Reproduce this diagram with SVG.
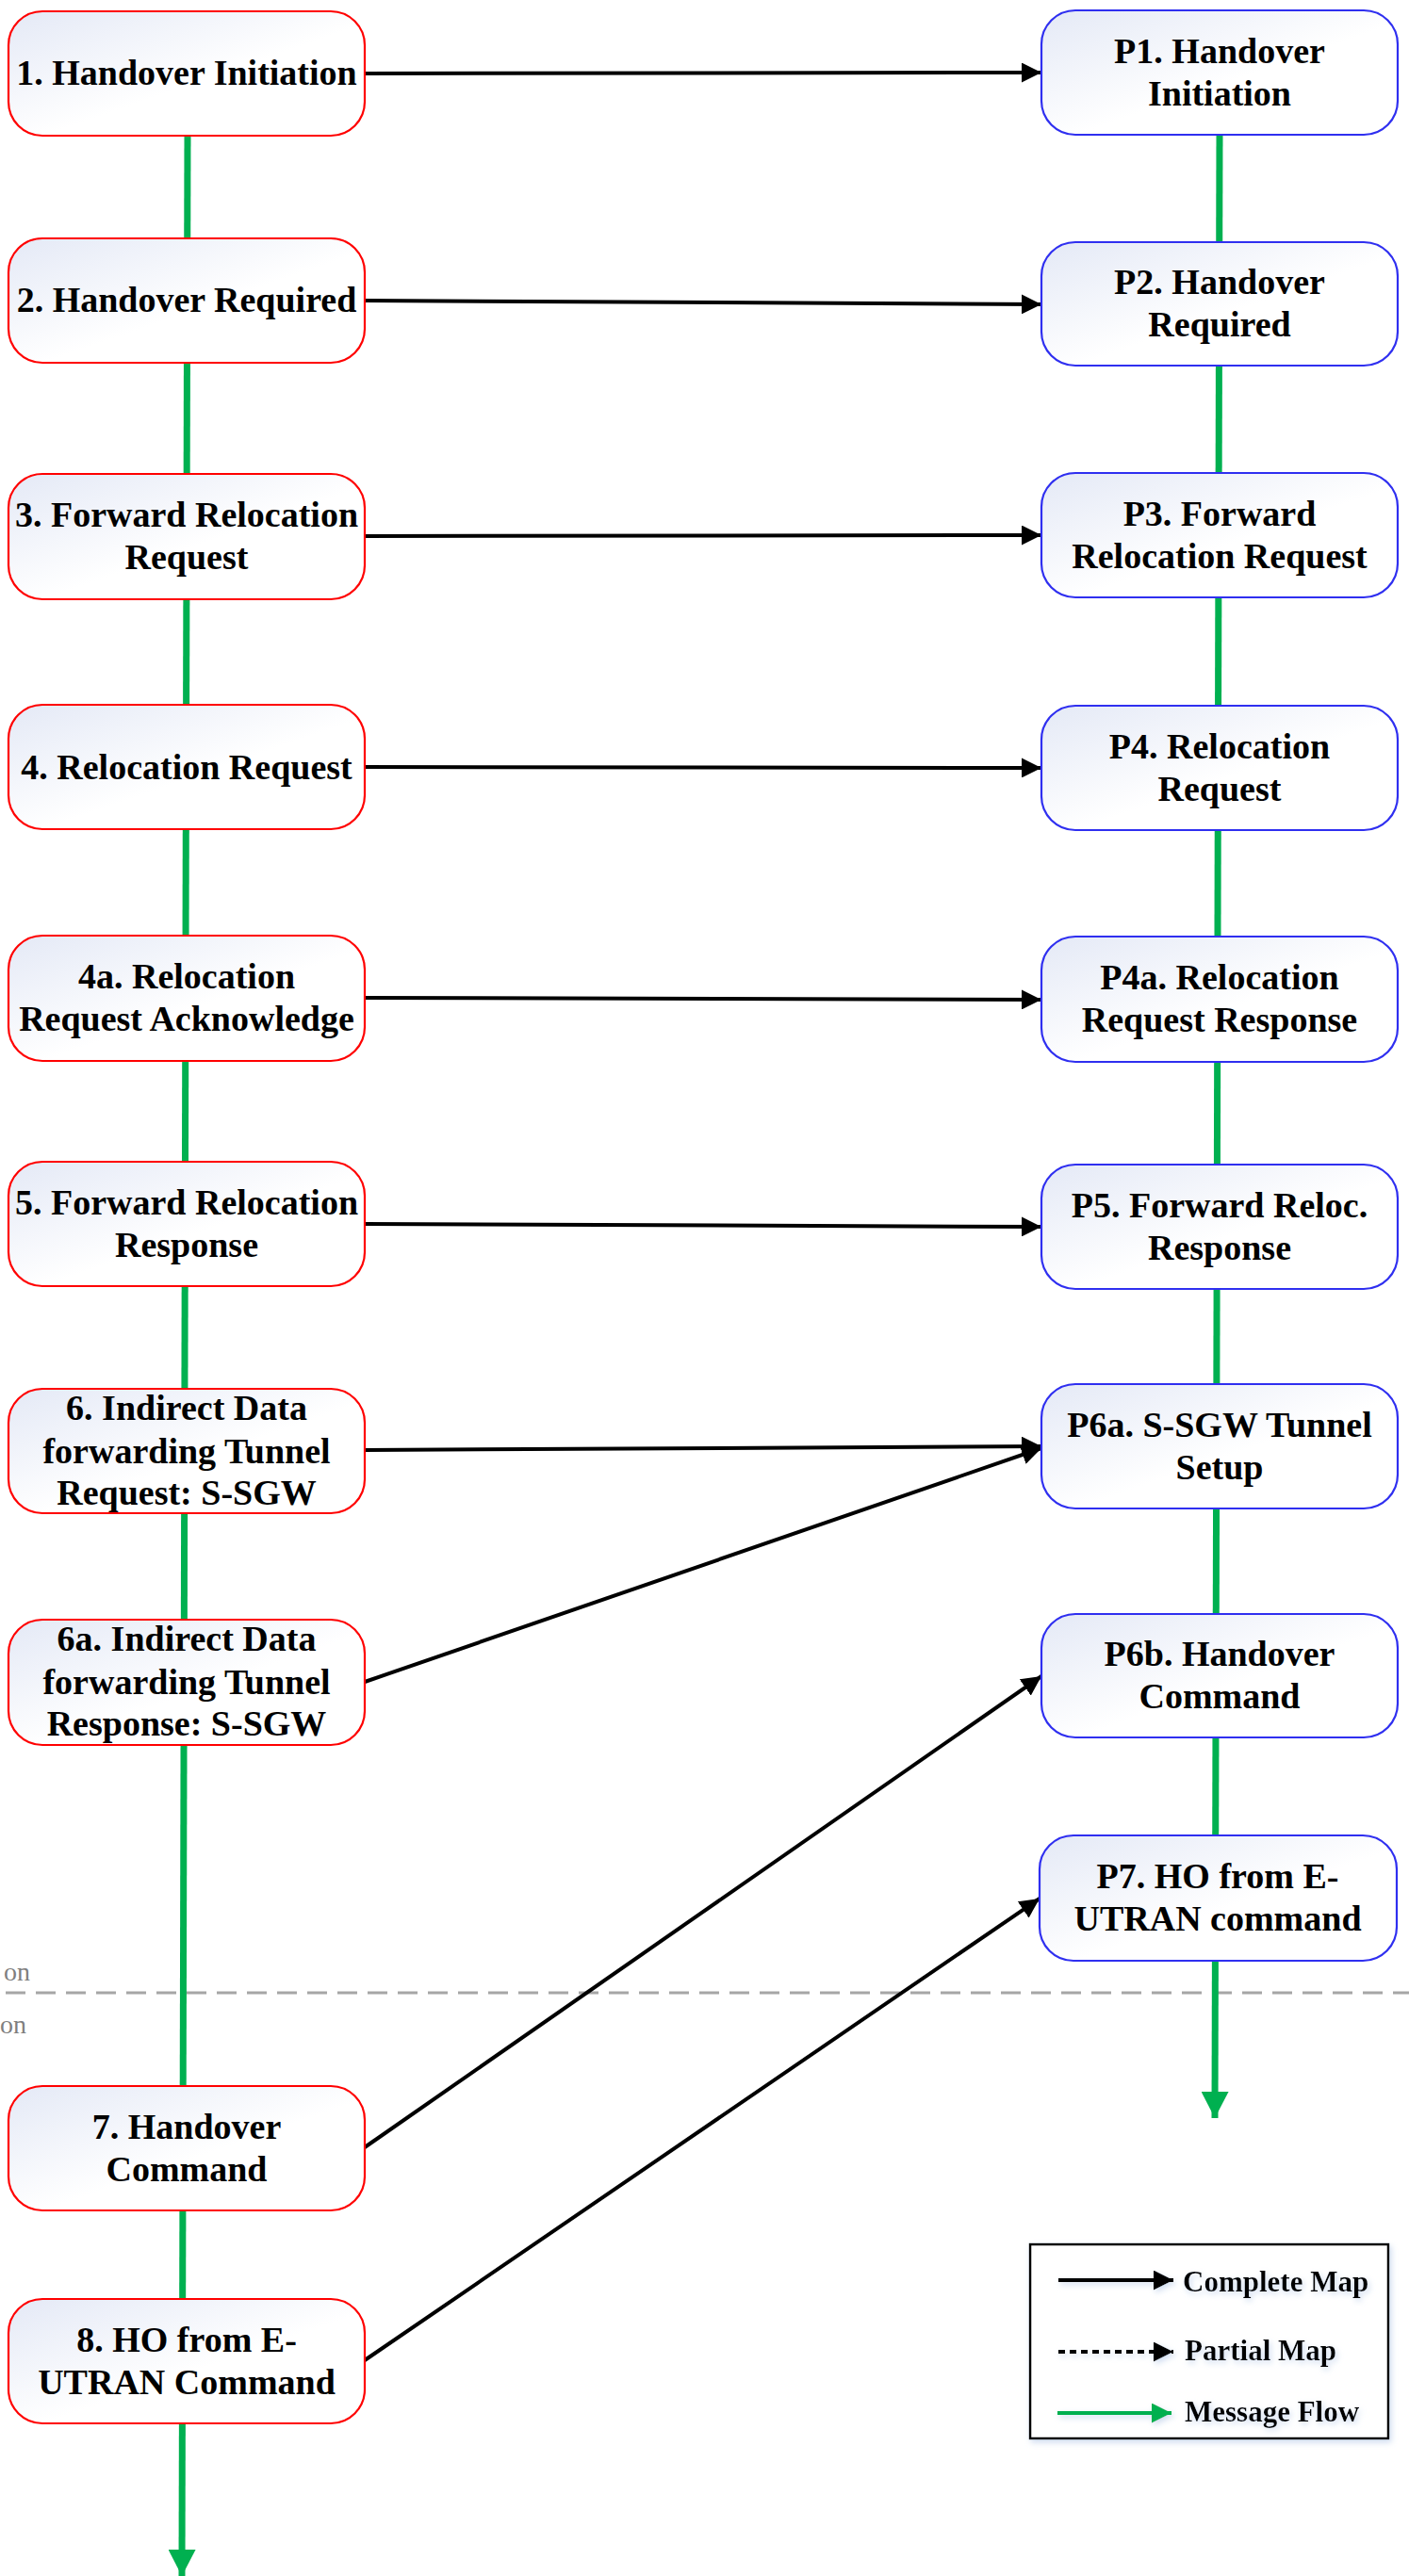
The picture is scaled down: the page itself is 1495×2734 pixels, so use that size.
<svg xmlns="http://www.w3.org/2000/svg" width="1495" height="2734" viewBox="0 0 1495 2734">
<defs>
<linearGradient id="nodeFill" x1="0" y1="0" x2="1" y2="1">
<stop offset="0" stop-color="#e4e9f6"/>
<stop offset="0.55" stop-color="#ffffff"/>
<stop offset="1" stop-color="#ffffff"/>
</linearGradient>
<marker id="blackHead" markerUnits="userSpaceOnUse" markerWidth="21" markerHeight="21" refX="21" refY="10.5" orient="auto">
<path d="M0,0 L21,10.5 L0,21 z" fill="#000"/>
</marker>
<marker id="greenHead" markerUnits="userSpaceOnUse" markerWidth="29" markerHeight="29" refX="28" refY="14.5" orient="auto">
<path d="M0,0 L28,14.5 L0,29 z" fill="#00b050"/>
</marker>
<marker id="legendGreenHead" markerUnits="userSpaceOnUse" markerWidth="21" markerHeight="21" refX="21" refY="10.5" orient="auto">
<path d="M0,0 L21,10.5 L0,21 z" fill="#00b050"/>
</marker>
<filter id="glow" x="-10%" y="-10%" width="120%" height="130%">
<feDropShadow dx="2" dy="3" stdDeviation="3" flood-color="#c9d8ee" flood-opacity="0.9"/>
</filter>
</defs>
<style>
.lnode rect{fill:url(#nodeFill);stroke:#ff0000;stroke-width:2.2}
.rnode rect{fill:url(#nodeFill);stroke:#2f2ff0;stroke-width:2.2}
.node text{font-family:"Liberation Serif","Times New Roman",serif;font-weight:bold;font-size:38px;fill:#000;text-anchor:middle}
.map{stroke:#000;stroke-width:4;fill:none;marker-end:url(#blackHead)}
.flow{stroke:#00b050;stroke-width:7;fill:none;marker-end:url(#greenHead)}
.sep{stroke:#a6a6a6;stroke-width:3;stroke-dasharray:21 11;fill:none}
.side{font-family:"Liberation Serif","Times New Roman",serif;font-size:28px;fill:#7f7f7f}
.legtext{font-family:"Liberation Serif","Times New Roman",serif;font-weight:bold;font-size:31px;fill:#000}
</style>
<rect width="1495" height="2734" fill="#ffffff"/>

<g id="separator">
<line class="sep" x1="6" y1="2115" x2="1495" y2="2115"/>
<text class="side" x="4" y="2102">on</text>
<text class="side" x="0" y="2158">on</text>
</g>

<g id="connectors">
<line class="flow" x1="199" y1="144" x2="193" y2="2734"/>
<line class="flow" x1="1294" y1="143" x2="1289" y2="2248"/>
<line class="map" x1="387" y1="78" x2="1105" y2="77"/>
<line class="map" x1="387" y1="319" x2="1105" y2="323"/>
<line class="map" x1="387" y1="569" x2="1105" y2="568"/>
<line class="map" x1="387" y1="814" x2="1105" y2="815"/>
<line class="map" x1="387" y1="1059" x2="1105" y2="1061"/>
<line class="map" x1="387" y1="1299" x2="1105" y2="1302"/>
<line class="map" x1="387" y1="1539" x2="1105" y2="1535"/>
<line class="map" x1="387" y1="1785" x2="1105" y2="1537"/>
<line class="map" x1="387" y1="2279" x2="1105" y2="1779"/>
<line class="map" x1="387" y1="2505" x2="1103" y2="2015"/>
</g>

<g id="n1" class="node lnode"><rect x="9" y="12" width="378" height="132" rx="36"/><text x="198" y="90">1. Handover Initiation</text></g>
<g id="n2" class="node lnode"><rect x="9" y="253" width="378" height="132" rx="36"/><text x="198" y="331">2. Handover Required</text></g>
<g id="n3" class="node lnode"><rect x="9" y="503" width="378" height="133" rx="36"/><text x="198" y="559">3. Forward Relocation</text><text x="198" y="604">Request</text></g>
<g id="n4" class="node lnode"><rect x="9" y="748" width="378" height="132" rx="36"/><text x="198" y="827">4. Relocation Request</text></g>
<g id="n4a" class="node lnode"><rect x="9" y="993" width="378" height="133" rx="36"/><text x="198" y="1049">4a. Relocation</text><text x="198" y="1094">Request Acknowledge</text></g>
<g id="n5" class="node lnode"><rect x="9" y="1233" width="378" height="132" rx="36"/><text x="198" y="1289">5. Forward Relocation</text><text x="198" y="1334">Response</text></g>
<g id="n6" class="node lnode"><rect x="9" y="1474" width="378" height="132" rx="36"/><text x="198" y="1507">6. Indirect Data</text><text x="198" y="1553">forwarding Tunnel</text><text x="198" y="1597">Request: S-SGW</text></g>
<g id="n6a" class="node lnode"><rect x="9" y="1719" width="378" height="133" rx="36"/><text x="198" y="1752">6a. Indirect Data</text><text x="198" y="1798">forwarding Tunnel</text><text x="198" y="1842">Response: S-SGW</text></g>
<g id="n7" class="node lnode"><rect x="9" y="2214" width="378" height="132" rx="36"/><text x="198" y="2270">7. Handover</text><text x="198" y="2315">Command</text></g>
<g id="n8" class="node lnode"><rect x="9" y="2440" width="378" height="132" rx="36"/><text x="198" y="2496">8. HO from E-</text><text x="198" y="2541">UTRAN Command</text></g>

<g id="p1" class="node rnode"><rect x="1105" y="11" width="378" height="132" rx="36"/><text x="1294" y="67">P1. Handover</text><text x="1294" y="112">Initiation</text></g>
<g id="p2" class="node rnode"><rect x="1105" y="257" width="378" height="131" rx="36"/><text x="1294" y="312">P2. Handover</text><text x="1294" y="357">Required</text></g>
<g id="p3" class="node rnode"><rect x="1105" y="502" width="378" height="132" rx="36"/><text x="1294" y="558">P3. Forward</text><text x="1294" y="603">Relocation Request</text></g>
<g id="p4" class="node rnode"><rect x="1105" y="749" width="378" height="132" rx="36"/><text x="1294" y="805">P4. Relocation</text><text x="1294" y="850">Request</text></g>
<g id="p4a" class="node rnode"><rect x="1105" y="994" width="378" height="133" rx="36"/><text x="1294" y="1050">P4a. Relocation</text><text x="1294" y="1095">Request Response</text></g>
<g id="p5" class="node rnode"><rect x="1105" y="1236" width="378" height="132" rx="36"/><text x="1294" y="1292">P5. Forward Reloc.</text><text x="1294" y="1337">Response</text></g>
<g id="p6a" class="node rnode"><rect x="1105" y="1469" width="378" height="132" rx="36"/><text x="1294" y="1525">P6a. S-SGW Tunnel</text><text x="1294" y="1570">Setup</text></g>
<g id="p6b" class="node rnode"><rect x="1105" y="1713" width="378" height="131" rx="36"/><text x="1294" y="1768">P6b. Handover</text><text x="1294" y="1813">Command</text></g>
<g id="p7" class="node rnode"><rect x="1103" y="1948" width="379" height="133" rx="36"/><text x="1292" y="2004">P7. HO from E-</text><text x="1292" y="2049">UTRAN command</text></g>

<g id="legend">
<rect x="1093" y="2382" width="380" height="206" fill="#ffffff" stroke="#000" stroke-width="2.5" filter="url(#glow)"/>
<g filter="url(#glow)">
<line x1="1123" y1="2420" x2="1245" y2="2420" stroke="#000" stroke-width="4" marker-end="url(#blackHead)"/>
<line x1="1123" y1="2496" x2="1245" y2="2496" stroke="#000" stroke-width="4" stroke-dasharray="7 5" marker-end="url(#blackHead)"/>
<line x1="1122" y1="2561" x2="1243" y2="2561" stroke="#00b050" stroke-width="4" marker-end="url(#legendGreenHead)"/>
<text class="legtext" x="1255" y="2432">Complete Map</text>
<text class="legtext" x="1257" y="2505">Partial Map</text>
<text class="legtext" x="1257" y="2570">Message Flow</text>
</g>
</g>
</svg>
